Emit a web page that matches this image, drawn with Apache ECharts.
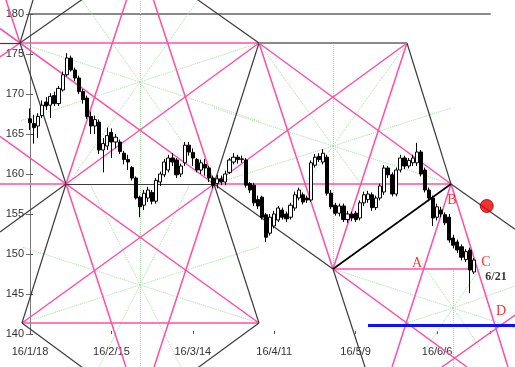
<!DOCTYPE html>
<html><head><meta charset="utf-8">
<script src="https://cdn.jsdelivr.net/npm/echarts/dist/echarts.min.js"></script>
<style>html,body{margin:0;padding:0;background:#fff}#c{width:515px;height:367px}</style>
</head><body><div id="c"></div>
<script>
// ---- tick labels (weekday index from 16/1/18) ----
const tickValues = [0, 20, 40, 60, 80, 100];
const tickLabels = ['16/1/18', '16/2/15', '16/3/14', '16/4/11', '16/5/9', '16/6/6'];
const priceTicks = [140, 145, 150, 155, 160, 165, 170, 175, 180];

// ---- daily candles (weekday index 0..109) ----
const opens = [166.9,166.3,166.0,167.3,169.0,168.6,169.8,168.8,170.5,172.4,174.5,173.0,172.0,170.3,169.5,167.2,166.0,166.5,163.0,163.5,
165.2,164.0,164.0,162.6,161.8,160.8,159.5,157.1,156.1,157.0,157.7,156.6,159.0,159.9,160.5,162.0,161.75,160.0,161.4,163.6,
162.7,161.8,160.5,161.2,160.75,159.5,158.8,159.4,159.0,160.2,161.5,162.1,161.8,161.75,158.8,158.6,156.8,157.1,154.9,152.6,
153.5,154.25,155.5,155.0,154.6,155.75,157.0,157.4,157.0,156.75,161.1,162.2,161.5,162.1,157.6,156.1,155.1,156.0,154.3,155.0,
155.1,154.5,156.4,156.8,157.4,155.8,157.0,157.75,160.75,159.9,157.5,160.5,162.0,161.0,161.4,161.4,162.75,160.5,158.0,157.0,
154.6,155.5,154.9,154.6,152.0,151.5,150.9,149.3,150.5,147.75];
const closes = [166.4,165.8,167.2,168.6,168.5,169.7,168.8,170.7,172.4,174.5,173.0,172.0,170.3,169.3,167.2,166.0,166.8,163.0,163.8,164.8,
164.0,164.6,162.8,161.8,161.5,159.5,157.0,155.9,157.6,158.0,156.6,159.2,160.0,161.5,162.0,161.5,159.9,161.0,163.6,162.75,
162.0,160.5,161.4,160.75,159.5,158.6,159.4,159.0,160.0,161.75,162.1,161.8,161.9,158.6,158.0,156.4,156.0,154.6,152.1,154.6,
155.0,155.75,154.6,154.4,156.1,157.4,158.0,156.5,156.75,161.4,162.1,161.8,162.6,157.6,155.9,155.1,156.0,154.3,155.0,154.5,
154.3,156.4,157.4,157.5,155.8,157.0,158.5,160.75,159.9,157.5,160.5,162.0,161.0,161.7,162.0,162.75,160.0,158.0,157.0,154.5,
155.9,155.0,153.9,151.75,151.1,150.5,149.6,150.3,148.0,149.25];
const lows = [165.5,163.8,164.5,167.0,168.0,167.0,168.5,168.5,170.3,172.2,172.8,171.6,170.0,168.8,166.9,165.0,165.0,162.5,160.2,163.0,
162.0,163.2,162.5,161.2,160.5,159.2,156.8,154.6,155.5,156.5,156.2,156.3,158.5,159.6,160.2,161.0,159.5,159.6,161.0,162.3,
161.0,160.2,160.0,159.8,159.0,158.2,158.2,158.6,158.6,160.0,161.2,161.3,161.4,158.3,157.6,156.0,155.6,154.3,151.5,152.3,
153.2,154.0,154.3,154.0,154.3,155.4,156.7,156.2,156.4,156.5,160.8,161.5,161.2,157.3,155.6,154.8,154.7,154.0,153.9,154.1,
154.0,154.2,156.0,156.4,155.4,155.5,156.7,157.4,159.5,157.2,157.2,160.2,160.6,160.7,161.0,161.0,159.7,157.7,156.6,153.5,
154.2,154.6,153.6,151.4,150.7,150.1,149.2,149.0,145.1,147.5];
const highs = [168.2,167.4,167.6,169.2,169.6,170.1,170.3,171.0,172.8,175.1,174.8,173.3,172.3,170.6,169.8,167.8,167.3,166.8,164.5,165.8,
165.7,165.0,164.3,162.9,162.4,161.0,159.7,157.3,158.0,158.4,158.0,159.5,160.3,161.9,162.4,162.6,162.0,161.3,164.0,164.0,
163.2,162.0,161.8,161.9,161.0,159.8,159.9,159.8,160.4,162.0,162.6,162.4,162.3,162.0,159.0,158.9,157.3,157.3,155.1,155.0,
155.4,156.0,155.8,155.3,156.4,157.8,158.3,157.7,157.3,161.7,162.5,162.6,163.1,162.4,158.0,156.4,156.3,156.3,155.4,155.3,
155.4,156.7,157.8,157.9,157.7,157.3,158.8,161.1,161.0,160.2,160.8,162.4,162.3,162.0,162.4,163.9,163.0,160.8,158.3,157.3,
156.3,155.9,155.2,155.0,152.4,151.8,151.2,150.6,150.8,149.5];

// ---- overlay vertices: [weekday index, price] ----
const vertices = {
  A0: [27.02, 186.875], V1: [-2.46, 176.375], V2: [56.25, 176.375], V3: [92.61, 176.375],
  V4: [8.84, 158.75], V5: [45.20, 158.75], V6: [103.42, 158.75], V7: [-1.97, 141.375],
  V8: [56.25, 141.375], V9: [74.43, 148.125], B0: [27.02, 130.5],
  L43: [-7.37, 176.375], T33: [0.74, 181.75], L232: [-7.37, 152.75], L184: [-7.37, 158.75],
  L28: [-7.37, 178.19], L57: [-7.37, 174.625], T6: [-5.9, 181.75], L136: [-7.37, 164.7],
  R229: [119.14, 153.1], B392: [88.93, 135.875], B508: [117.42, 135.875], B365: [82.29, 135.875],
  B467: [107.35, 135.875], H475: [109.3, 148.125], B442: [101.2, 135.875], R315: [119.14, 142.375]
};
const darkSegs = [['V1','A0'],['V2','A0'],['V1','V4'],['V4','V7'],['V7','B0'],['B0','V8'],['V8','V5'],['V5','V2'],
  ['V4','V5'],['L43','V1'],['V1','T33'],['L232','V4'],['V3','V6'],['V5','V9'],['V9','B365'],['V6','R229']];
const graySegs = [['V2','V3']];
const blackSegs = [['V6','V9']];
const pinkSegs = [['V1','V2'],['L184','V4'],['V5','V6'],['V7','V8'],['V9','H475'],['L28','V5'],['V2','V4'],
  ['A0','V4'],['A0','V5'],['V4','B0'],['V5','B0'],['V7','V5'],['V8','L136'],['V1','L57'],['V1','T6'],
  ['V2','V9'],['V3','V9'],['V2','V6'],['V3','V5'],['V6','B392'],['V6','B508'],['V9','B467'],['B442','R315']];

// ---- dotted spokes: centre and end points ----
const spokeCentres = [[27.02, 171.5],[27.02, 146.125],[74.43, 163.5],[103.91, 143.25]];
const spokeEnds = [
  [[27.02,181.75],[27.02,158.75],[12.77,181.75],[44.71,158.75],[41.27,181.75],[9.34,158.75],[-2.46,176.375],[56.25,176.375],[-2.46,166.625],[56.25,166.625]],
  [[27.02,158.75],[27.02,135.875],[-1.97,141.375],[56.25,141.375],[-1.97,150.875],[56.25,150.875],[14.74,158.75],[37.1,135.875],[39.3,158.75],[16.95,135.875]],
  [[74.43,176.375],[74.43,148.125],[56.25,176.375],[85.98,155.5],[92.61,176.375],[62.89,155.5],[45.2,158.75],[103.42,168.25],[103.42,158.75],[45.2,168.25]],
  [[103.91,148.125],[103.91,135.875],[74.43,148.125],[119.14,140.75],[90.89,141.125],[119.14,146.0],[95.8,149.25],[110.5,138.375],[112.0,149.25],[97.0,138.0]]
];

// ---- markers ----
const blueLine = [[83.03, 141.1],[119.5, 141.1]];
const redDot = [112.2, 156.0];
const annotations = [
  {name: 'A', value: [95.07, 148.875]}, {name: 'B', value: [103.67, 156.75]},
  {name: 'C', value: [112.02, 149.0]}, {name: 'D', value: [115.7, 142.875]}
];
const dateNote = {name: '6/21', value: [114.47, 147.125]};

const candleData = opens.map((o, i) => [i, o, closes[i], lows[i], highs[i]]);
const segData = segs => segs.map(s => ({coords: [vertices[s[0]], vertices[s[1]]]}));
const spokeData = [];
spokeCentres.forEach((c, k) => spokeEnds[k].forEach(e => spokeData.push({coords: [c, e]})));

function linesSeries(data, color, width, type, z) {
  return {type: 'lines', coordinateSystem: 'cartesian2d', clip: false, silent: true, z: z,
    lineStyle: {color: color, width: width, type: type || 'solid', opacity: 1}, data: data};
}

const chart = echarts.init(document.getElementById('c'), null, {renderer: 'canvas'});
chart.setOption({
  animation: false,
  backgroundColor: '#ffffff',
  grid: {left: 30, right: 25, top: 14, bottom: 33},
  xAxis: [{
    type: 'value', min: 0, max: 113, interval: 20, position: 'bottom',
    axisLine: {show: false},
    axisTick: {show: true, length: 3, inside: true, lineStyle: {color: '#555'}},
    splitLine: {show: false},
    axisLabel: {color: '#333', fontSize: 11, fontFamily: 'Liberation Sans', margin: 12,
      formatter: v => { const k = tickValues.indexOf(v); return k >= 0 ? tickLabels[k] : ''; }}
  }, {
    type: 'value', min: 0, max: 113, position: 'top',
    axisLine: {show: true, lineStyle: {color: '#8a8a8a', width: 2}},
    axisTick: {show: false}, axisLabel: {show: false}, splitLine: {show: false}
  }],
  yAxis: [{
    type: 'value', min: 140, max: 180, interval: 5, position: 'left',
    axisLine: {show: true, lineStyle: {color: '#555', width: 1}},
    axisTick: {show: true, inside: true, length: 3, lineStyle: {color: '#555'}},
    splitLine: {show: false},
    axisLabel: {color: '#333', fontSize: 11, fontFamily: 'Liberation Sans', margin: 6,
      formatter: v => priceTicks.indexOf(v) >= 0 ? String(v) : ''}
  }, {
    type: 'value', min: 140, max: 180, interval: 5, position: 'right',
    axisLine: {show: true, lineStyle: {color: '#777', width: 1}},
    axisTick: {show: true, inside: true, length: 4, lineStyle: {color: '#777'}},
    axisLabel: {show: false}, splitLine: {show: false}
  }],
  series: [
    linesSeries(spokeData, '#a6dca6', 1, 'dotted', 1),
    linesSeries(segData(pinkSegs), '#ff4fa3', 1.5, 'solid', 2),
    linesSeries(segData(darkSegs), '#3c3c3c', 1.2, 'solid', 3),
    linesSeries(segData(graySegs), '#8a8a8a', 2, 'solid', 3),
    linesSeries(segData(blackSegs), '#000000', 1.6, 'solid', 3),
    {
      type: 'candlestick', z: 5, barWidth: 3.6,
      itemStyle: {color: '#ffffff', color0: '#000000', borderColor: '#000000', borderColor0: '#000000', borderWidth: 1},
      data: candleData
    },
    linesSeries([{coords: blueLine}], '#1010ff', 3, 'solid', 6),
    {
      type: 'scatter', z: 7, symbol: 'circle', symbolSize: 13, clip: false,
      itemStyle: {color: '#ee0000', borderColor: '#990000', borderWidth: 1},
      data: [redDot]
    },
    {
      type: 'scatter', z: 8, symbolSize: 0, silent: true, clip: false,
      label: {show: true, position: 'inside', formatter: '{b}', color: '#ff0000',
        fontFamily: 'Liberation Serif', fontSize: 14},
      data: annotations
    },
    {
      type: 'scatter', z: 8, symbolSize: 0, silent: true, clip: false,
      label: {show: true, position: 'inside', formatter: '{b}', color: '#000000',
        fontFamily: 'Liberation Serif', fontSize: 12, fontWeight: 'bold'},
      data: [dateNote]
    }
  ]
});
</script>
</body></html>
